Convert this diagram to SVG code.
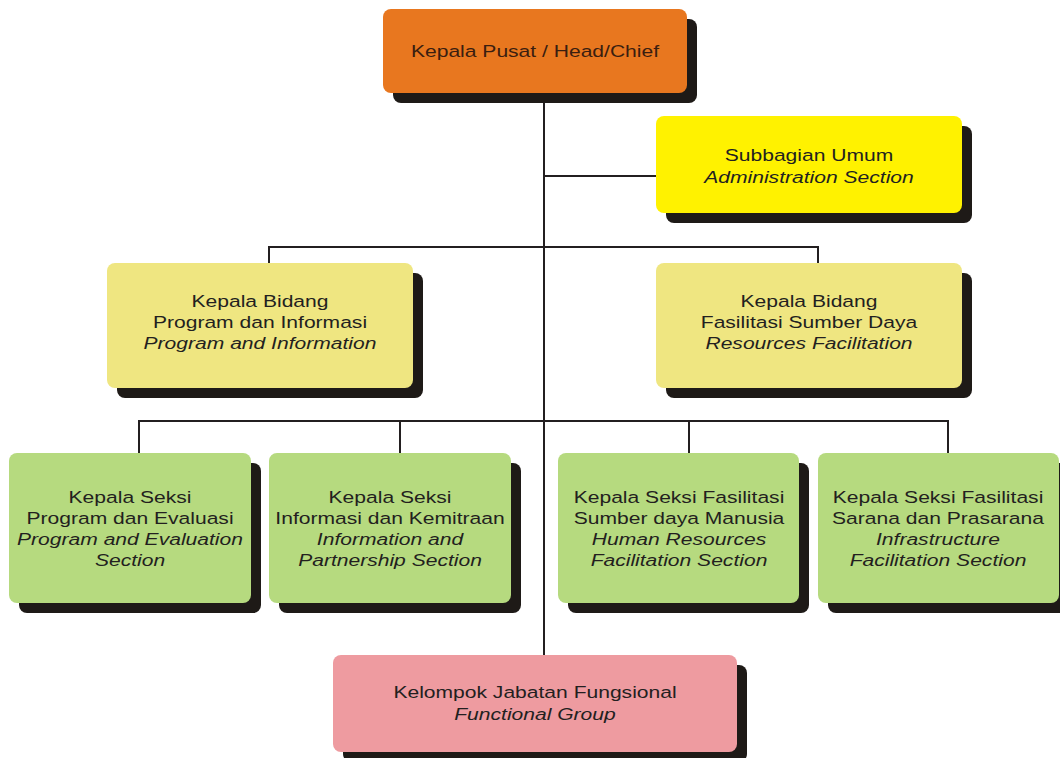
<svg xmlns="http://www.w3.org/2000/svg" width="1060" height="758" viewBox="0 0 1060 758">
<style>
.sh{fill:#1e1a17}
.bx{stroke:none}
.t{font-family:"Liberation Sans",Arial,sans-serif;font-size:17px;fill:#231f20;text-anchor:middle}
.i{font-style:italic}
.ln{stroke:#231f20;stroke-width:2;fill:none}
</style>
<rect width="1060" height="758" fill="#ffffff"/>
<g id="connectors">
<path class="ln" d="M544,93 V655"/>
<path class="ln" d="M544,176 H656"/>
<path class="ln" d="M269,263 V247 H818 V263"/>
<path class="ln" d="M139,453 V421 H948 V453"/>
<path class="ln" d="M400,421 V453"/>
<path class="ln" d="M689,421 V453"/>
</g>
<g id="head">
<rect class="sh" x="393" y="19" width="304" height="84" rx="8"/>
<rect class="bx" x="383" y="9" width="304" height="84" rx="8" fill="#e8771f"/>
<text class="t" transform="translate(535,0) scale(1.24,1)" style="fill:#3a1e10"><tspan x="0" y="57">Kepala Pusat / Head/Chief</tspan></text>
</g>
<g id="subbagian">
<rect class="sh" x="666" y="126" width="306" height="97" rx="8"/>
<rect class="bx" x="656" y="116" width="306" height="97" rx="8" fill="#fff200"/>
<text class="t" transform="translate(809,0) scale(1.24,1)"><tspan x="0" y="161">Subbagian Umum</tspan><tspan class="i" x="0" y="183">Administration Section</tspan></text>
</g>
<g id="bidang-program">
<rect class="sh" x="117" y="273" width="306" height="125" rx="8"/>
<rect class="bx" x="107" y="263" width="306" height="125" rx="8" fill="#efe681"/>
<text class="t" transform="translate(260,0) scale(1.24,1)"><tspan x="0" y="307">Kepala Bidang</tspan><tspan x="0" y="328">Program dan Informasi</tspan><tspan class="i" x="0" y="349">Program and Information</tspan></text>
</g>
<g id="bidang-fasilitasi">
<rect class="sh" x="666" y="273" width="306" height="125" rx="8"/>
<rect class="bx" x="656" y="263" width="306" height="125" rx="8" fill="#efe681"/>
<text class="t" transform="translate(809,0) scale(1.24,1)"><tspan x="0" y="307">Kepala Bidang</tspan><tspan x="0" y="328">Fasilitasi Sumber Daya</tspan><tspan class="i" x="0" y="349">Resources Facilitation</tspan></text>
</g>
<g id="seksi-program">
<rect class="sh" x="19" y="463" width="242" height="150" rx="8"/>
<rect class="bx" x="9" y="453" width="242" height="150" rx="8" fill="#b6da7f"/>
<text class="t" transform="translate(130,0) scale(1.24,1)"><tspan x="0" y="503">Kepala Seksi</tspan><tspan x="0" y="524">Program dan Evaluasi</tspan><tspan class="i" x="0" y="545">Program and Evaluation</tspan><tspan class="i" x="0" y="566">Section</tspan></text>
</g>
<g id="seksi-informasi">
<rect class="sh" x="279" y="463" width="242" height="150" rx="8"/>
<rect class="bx" x="269" y="453" width="242" height="150" rx="8" fill="#b6da7f"/>
<text class="t" transform="translate(390,0) scale(1.24,1)"><tspan x="0" y="503">Kepala Seksi</tspan><tspan x="0" y="524">Informasi dan Kemitraan</tspan><tspan class="i" x="0" y="545">Information and</tspan><tspan class="i" x="0" y="566">Partnership Section</tspan></text>
</g>
<g id="seksi-sdm">
<rect class="sh" x="568" y="463" width="241" height="150" rx="8"/>
<rect class="bx" x="558" y="453" width="241" height="150" rx="8" fill="#b6da7f"/>
<text class="t" transform="translate(679,0) scale(1.24,1)"><tspan x="0" y="503">Kepala Seksi Fasilitasi</tspan><tspan x="0" y="524">Sumber daya Manusia</tspan><tspan class="i" x="0" y="545">Human Resources</tspan><tspan class="i" x="0" y="566">Facilitation Section</tspan></text>
</g>
<g id="seksi-sarana">
<rect class="sh" x="828" y="463" width="241" height="150" rx="8"/>
<rect class="bx" x="818" y="453" width="241" height="150" rx="8" fill="#b6da7f"/>
<text class="t" transform="translate(938,0) scale(1.24,1)"><tspan x="0" y="503">Kepala Seksi Fasilitasi</tspan><tspan x="0" y="524">Sarana dan Prasarana</tspan><tspan class="i" x="0" y="545">Infrastructure</tspan><tspan class="i" x="0" y="566">Facilitation Section</tspan></text>
</g>
<g id="fungsional">
<rect class="sh" x="343" y="665" width="404" height="97" rx="8"/>
<rect class="bx" x="333" y="655" width="404" height="97" rx="8" fill="#ee9ba0"/>
<text class="t" transform="translate(535,0) scale(1.24,1)"><tspan x="0" y="698">Kelompok Jabatan Fungsional</tspan><tspan class="i" x="0" y="720">Functional Group</tspan></text>
</g>
</svg>
